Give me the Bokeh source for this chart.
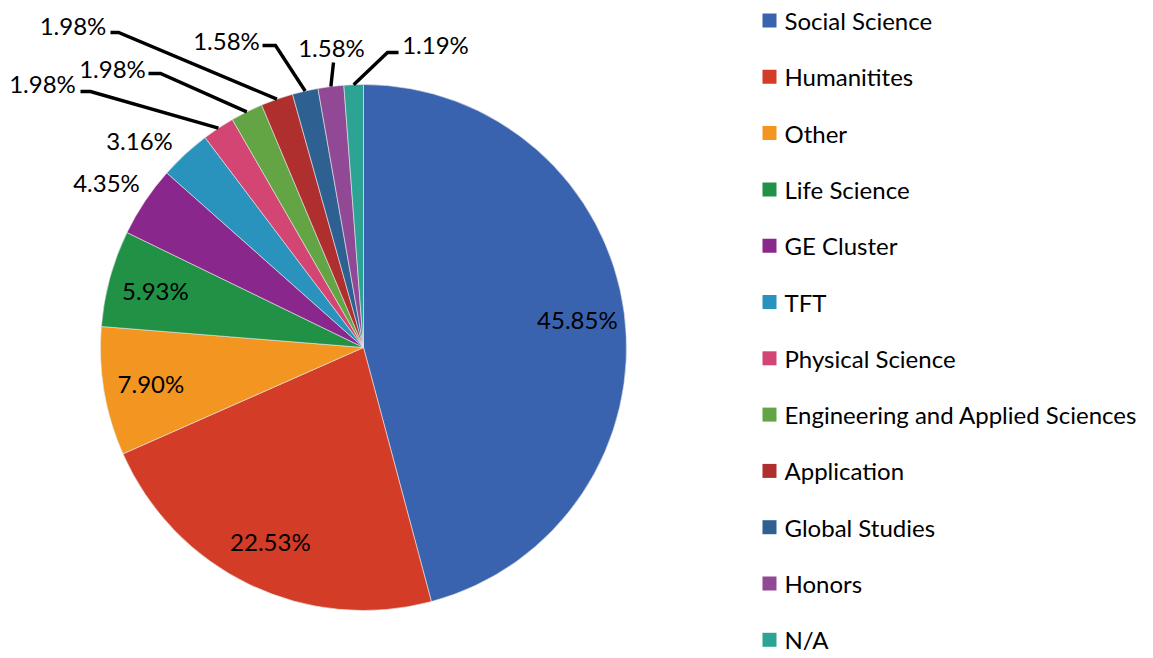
import math
from bokeh.plotting import figure
from bokeh.models import Range1d, ColumnDataSource
from bokeh.core.properties import value
from bokeh.embed import file_html
from bokeh.resources import INLINE

# ---- data ----
categories = ["Social Science", "Humanitites", "Other", "Life Science", "GE Cluster", "TFT",
              "Physical Science", "Engineering and Applied Sciences", "Application",
              "Global Studies", "Honors", "N/A"]
percents = [45.85, 22.53, 7.90, 5.93, 4.35, 3.16, 1.98, 1.98, 1.98, 1.58, 1.58, 1.19]
colors = ["#3A63AF", "#D33C27", "#F39621", "#219146", "#8A278C", "#2A93BD",
          "#D34674", "#63A545", "#AF2F2F", "#2F6092", "#914995", "#2DA393"]

# ---- layout (screen pixel coordinates; data y = H - screen y) ----
W, H = 1150, 655
FONT = "Lato"
FS = "24px"
CX, CY, R = 363.0, 347.0, 263.0

def sy(y):
    return H - y

p = figure(width=W, height=H, output_backend="svg", toolbar_location=None,
           x_range=Range1d(0, W), y_range=Range1d(0, H),
           x_axis_type=None, y_axis_type=None, min_border=0)
p.outline_line_color = None
p.grid.visible = False
p.background_fill_color = "white"
p.border_fill_color = "white"

total = sum(percents)
starts, ends, mids = [], [], []
acc = 0.0
for v in percents:
    a0 = math.pi / 2 - 2 * math.pi * acc / total
    a1 = math.pi / 2 - 2 * math.pi * (acc + v) / total
    starts.append(a0)
    ends.append(a1)
    mids.append((a0 + a1) / 2)
    acc += v

src = ColumnDataSource(dict(start=starts, end=ends, color=colors, cat=categories))
p.wedge(x=CX, y=sy(CY), radius=R, start_angle="start", end_angle="end",
        direction="clock", fill_color="color", line_color="#e8e8e8", line_width=0.6,
        source=src)

labels = [f"{v:.2f}%" for v in percents]

# inside labels for the big slices
in_idx = [0, 1, 2, 3]
ix = [CX + 0.82 * R * math.cos(mids[i]) for i in in_idx]
iy = [sy(CY) + 0.82 * R * math.sin(mids[i]) for i in in_idx]
p.text(x=ix, y=iy, text=[labels[i] for i in in_idx], text_font=value(FONT),
       text_font_size=FS, text_align="center", text_baseline="middle", text_color="black")

# outside labels (label centre positions and leader-line elbows, screen coords)
out_pos = {4: (106, 182), 5: (139, 140), 6: (42, 83), 7: (112, 67.5), 8: (72.5, 25),
           9: (226, 40), 10: (331, 47), 11: (435, 44)}
elbows = {6: [(80, 91), (90, 91)], 7: [(148, 73), (160, 73)], 8: [(110, 32), (118, 32)],
          9: [(262, 45), (275, 45)], 10: [(333, 62)], 11: [(398, 52), (387, 52)]}

ox = [out_pos[i][0] for i in out_pos]
oy = [sy(out_pos[i][1]) for i in out_pos]
p.text(x=ox, y=oy, text=[labels[i] for i in out_pos], text_font=value(FONT),
       text_font_size=FS, text_align="center", text_baseline="middle", text_color="black")

xs, ys = [], []
for i, pts in elbows.items():
    ex = CX + R * math.cos(mids[i])
    ey = sy(CY) + R * math.sin(mids[i])
    xs.append([q[0] for q in pts] + [ex])
    ys.append([sy(q[1]) for q in pts] + [ey])
p.multi_line(xs=xs, ys=ys, line_color="black", line_width=3.4, line_join="miter")

# legend (manual)
LX, LY0, LSTEP = 769, 20, 56.3
lx = [LX] * len(categories)
ly = [sy(LY0 + k * LSTEP) for k in range(len(categories))]
p.scatter(x=lx, y=ly, marker="square", size=14, fill_color=colors, line_color=None)
p.text(x=[LX + 15] * len(categories), y=ly, text=categories, text_font=value(FONT),
       text_font_size=FS, text_align="left", text_baseline="middle", text_color="black")

open("out.html", "w").write(file_html(p, INLINE))
